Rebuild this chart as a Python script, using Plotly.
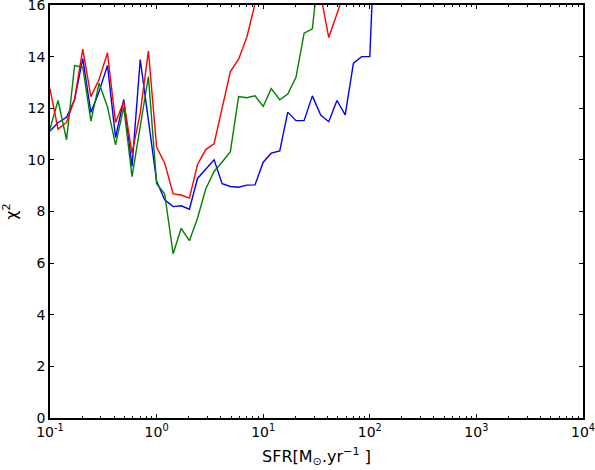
import plotly.graph_objects as go

# SFR grid (log spaced bins)
sfr = [0.1, 0.119, 0.143, 0.170, 0.203, 0.242, 0.289, 0.346, 0.412, 0.492,
       0.588, 0.702, 0.838, 1.0, 1.19, 1.43, 1.70, 2.03, 2.42, 2.89,
       3.46, 4.12, 4.92, 5.88, 7.02, 8.38, 10.0, 11.9, 14.3, 17.0,
       20.3, 24.2, 28.9, 34.6, 41.2, 49.2, 58.8, 70.2, 83.8, 100.0,
       119.0, 143.0]

chi2_red = [12.75, 11.19, 11.45, 12.35, 14.29, 12.45, 13.12, 14.15, 11.45, 12.26,
            10.26, 11.81, 14.22, 10.5, 9.88, 8.68, 8.64, 8.52, 9.82, 10.4,
            10.62, 12.0, 13.42, 13.9, 14.75, 16.05, 17.2, 18.0, 18.5, 18.0,
            17.5, 17.0, 16.8, 16.4, 14.74, 15.7, 16.6, 17.5, 18.0, 18.5,
            19.0]

chi2_green = [11.2, 12.3, 10.78, 13.65, 13.59, 11.5, 12.97, 12.05, 10.58, 12.05,
              9.35, 11.3, 13.23, 9.08, 8.69, 6.36, 7.35, 6.87, 7.74, 8.87,
              9.55, 9.92, 10.32, 12.45, 12.41, 12.48, 12.07, 12.76, 12.33, 12.55,
              13.2, 14.91, 15.08, 18.0, 19.0, 19.5]

chi2_blue = [11.12, 11.44, 11.65, 12.33, 13.92, 11.84, 12.65, 13.66, 10.86, 12.34,
             9.75, 13.89, 11.53, 9.18, 8.45, 8.19, 8.22, 8.09, 9.28, 9.65,
             10.0, 9.08, 8.97, 8.94, 9.02, 9.03, 9.91, 10.26, 10.35, 11.85,
             11.52, 11.52, 12.48, 11.74, 11.48, 12.3, 11.74, 13.75, 14.0, 14.0,
             21.5, 23.0]

x_ticks = [0.1, 1, 10, 100, 1000, 10000]
x_ticktext = ['10<sup>-1</sup>', '10<sup>0</sup>', '10<sup>1</sup>',
              '10<sup>2</sup>', '10<sup>3</sup>', '10<sup>4</sup>']
y_ticks = [0, 2, 4, 6, 8, 10, 12, 14, 16]

minor_x = [m * 10 ** e for e in range(-1, 4) for m in range(2, 10)]

fig = go.Figure()
for vals, col in [(chi2_blue, '#0000ff'), (chi2_green, '#008000'), (chi2_red, '#ff0000')]:
    fig.add_trace(go.Scatter(
        x=sfr[:len(vals)],
        y=vals,
        mode='lines',
        line=dict(color=col, width=1.4),
        showlegend=False
    ))

fig.update_layout(
    width=595, height=470,
    paper_bgcolor='white',
    plot_bgcolor='white',
    font=dict(family='DejaVu Sans', size=13, color='black'),
    margin=dict(l=50, r=12, t=5, b=52),
    showlegend=False
)

fig.update_xaxes(
    type='log', range=[-1, 4], automargin=False,
    tickmode='array', tickvals=x_ticks, ticktext=x_ticktext,
    tickfont=dict(size=14), ticklabeloverflow='allow',
    ticks='inside', ticklen=4, tickwidth=1, tickcolor='black',
    minor=dict(tickmode='array', tickvals=minor_x, ticks='inside',
               ticklen=2, tickwidth=1, tickcolor='black', showgrid=False),
    showline=True, linecolor='black', linewidth=1.5, mirror='allticks',
    showgrid=False, zeroline=False,
    title=dict(text='SFR[M<sub>⊙</sub>.yr<sup>−1</sup> ]', standoff=12)
)
fig.update_yaxes(
    range=[0, 16.0001], automargin=False,
    tickmode='array', tickvals=y_ticks,
    tickfont=dict(size=14), ticklabeloverflow='allow',
    ticks='inside', ticklen=4, tickwidth=1, tickcolor='black',
    showline=True, linecolor='black', linewidth=1.5, mirror='allticks',
    showgrid=False, zeroline=False,
    title=dict(text='χ<sup>2</sup>', standoff=12)
)

# page body has a default margin; drop it so the figure sits at the corner
fig.write_html("out.html", config={'displayModeBar': False},
               post_script="document.body.style.margin='0';")
